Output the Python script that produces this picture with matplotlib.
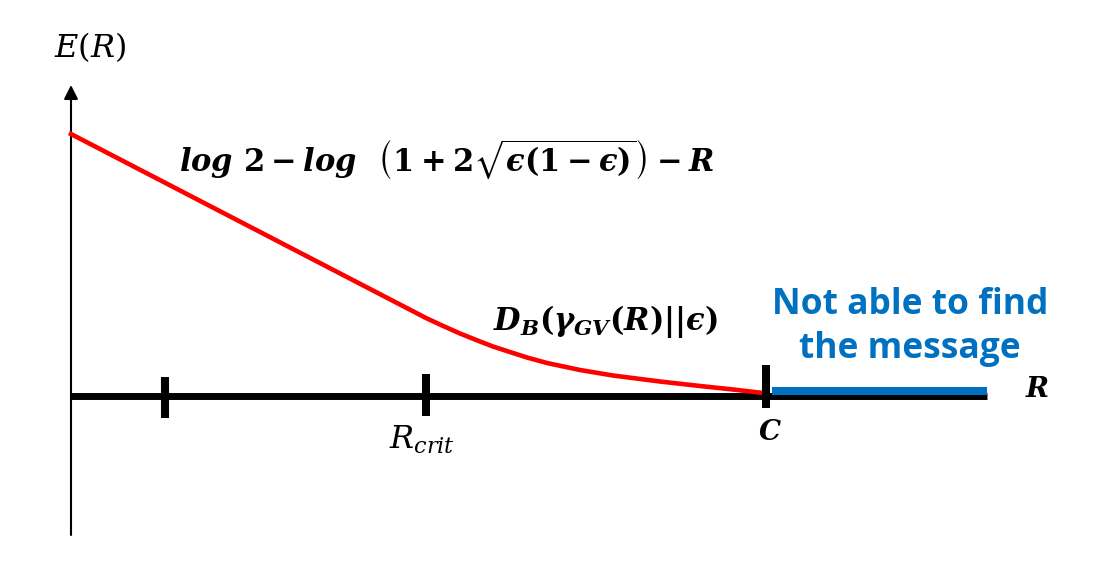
import matplotlib.pyplot as plt

# fontes: 'custom' = negrito itálico, 'dejavuserif' = normal
plt.rcParams['mathtext.fontset'] = 'custom'
plt.rcParams['mathtext.rm'] = 'DejaVu Serif:bold'
plt.rcParams['mathtext.it'] = 'DejaVu Serif:italic:bold'
plt.rcParams['mathtext.bf'] = 'DejaVu Serif:bold'
plt.rcParams['mathtext.fallback'] = 'stix'

# red curve E(R): straight part then the D_B part
r_vals = [0.0, 3.55, 3.70, 3.89, 4.09, 4.22, 4.42, 4.56, 4.76, 5.09, 5.42, 5.89, 6.29, 6.62, 6.92]
e_vals = [2.62, 0.78, 0.71, 0.625, 0.545, 0.495, 0.43, 0.385, 0.33, 0.26, 0.205, 0.145, 0.10, 0.065, 0.03]

# marks on the R axis
tick_r = [0.94, 3.55, 6.95]
tick_lo = [-0.22, -0.20, -0.12]
tick_hi = [0.19, 0.22, 0.31]

# axis extents
r_end = 9.16
e_bottom = -1.39
e_top = 3.11

# region where the message can't be found
blue_r = [7.01, 9.16]
blue_e = [0.05, 0.05]

fig = plt.figure(figsize=(10.95, 5.61), dpi=100)
ax = fig.add_axes([0, 0, 1, 1])
ax.set_xlim(-0.71, 10.24)
ax.set_ylim(-1.65, 3.96)
ax.axis('off')

# eixo vertical com seta
ax.annotate('', xy=(0, e_top), xytext=(0, e_bottom),
            arrowprops=dict(arrowstyle='-|>,head_length=0.6,head_width=0.3',
                            color='black', lw=1.5, shrinkA=0, shrinkB=0,
                            mutation_scale=14))

# eixo horizontal
ax.plot([0, r_end], [0, 0], color='black', lw=5, solid_capstyle='butt', zorder=2)
ax.plot(blue_r, blue_e, color='#0070C0', lw=5.8, solid_capstyle='butt', zorder=3)

ax.plot(r_vals, e_vals, color='#FF0000', lw=3.3, zorder=4)

ax.vlines(tick_r, tick_lo, tick_hi, color='black', lw=5.8, zorder=5)

# textos
ax.text(0.19, 3.49, r'$E(R)$', fontsize=23, ha='center', va='center',
        math_fontfamily='dejavuserif')
ax.text(3.76, 2.36,
        r'$log\ 2 - log\ \ \left(1 + 2\sqrt{ϵ(1-ϵ)}\right) - R$',
        fontsize=22, ha='center', va='center')
ax.text(5.34, 0.74, r'$D_B(\gamma_{GV}(R)||ϵ)$',
        fontsize=22, ha='center', va='center')
ax.text(8.39, 0.69, 'Not able to find\nthe message', color='#0070C0',
        fontsize=25.5, fontweight='bold', family='Open Sans',
        ha='center', va='center', linespacing=1.3)
ax.text(9.66, 0.07, r'$R$', fontsize=20, ha='center', va='center')
ax.text(6.99, -0.36, r'$C$', fontsize=20, ha='center', va='center')
ax.text(3.51, -0.44, r'$R_{crit}$', fontsize=23, ha='center', va='center',
        math_fontfamily='dejavuserif')

plt.savefig('out.png', dpi=100)
